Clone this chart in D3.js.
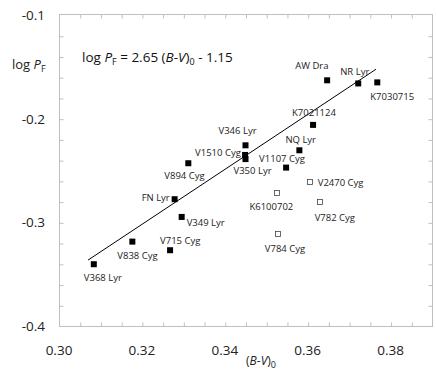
<!DOCTYPE html>
<html>
<head>
<meta charset="utf-8">
<script src="https://cdn.jsdelivr.net/npm/d3@7"></script>
<style>
  body { margin: 0; background: #fff; }
  svg { display: block; font-family: "Open Sans", sans-serif; }
</style>
</head>
<body>
<svg id="chart" width="436" height="375"></svg>
<script>
// stars on the fit (filled squares)
const filledNames = ['AW Dra', 'NR Lyr', 'K7030715', 'K7021124', 'V346 Lyr', 'V1510 Cyg', 'V350 Lyr',
    'NQ Lyr', 'V1107 Cyg', 'V894 Cyg', 'FN Lyr', 'V349 Lyr', 'V838 Cyg', 'V715 Cyg', 'V368 Lyr'];
const filledBV = [0.3647, 0.3722, 0.3768, 0.3613, 0.3450, 0.3449, 0.3450,
    0.3580, 0.3548, 0.3312, 0.3279, 0.3296, 0.3177, 0.3268, 0.3084];
const filledLogP = [-0.163, -0.166, -0.165, -0.206, -0.2257, -0.235, -0.239,
    -0.2305, -0.2472, -0.243, -0.2777, -0.2948, -0.3186, -0.3269, -0.3404];

// stars off the fit (open squares)
const openNames = ['V2470 Cyg', 'K6100702', 'V782 Cyg', 'V784 Cyg'];
const openBV = [0.3605, 0.3527, 0.3629, 0.3528];
const openLogP = [-0.2607, -0.2713, -0.2800, -0.3112];

// fitted relation log P = 2.65 (B-V)0 - 1.15
const fitSlope = 2.65;
const fitIntercept = -1.15;
const fitRange = [0.307, 0.3765];

const xMajorTicks = [0.30, 0.32, 0.34, 0.36, 0.38];
const xMinorTicks = d3.range(0.305, 0.389, 0.005);
const yMajorTicks = [-0.4, -0.3, -0.2, -0.1];
const yMinorTicks = d3.range(-0.38, -0.101, 0.02);

// label placement (dx, dy from the marker)
const labelOffsets = {
    'AW Dra': [-32, -11], 'NR Lyr': [-18, -8], 'K7030715': [-7, 18], 'K7021124': [-21, -9],
    'V346 Lyr': [-27, -11], 'V1510 Cyg': [-50, 1], 'V350 Lyr': [-12, 15], 'NQ Lyr': [-14, -7],
    'V1107 Cyg': [-27, -6], 'V894 Cyg': [-24, 16], 'FN Lyr': [-33, 2], 'V349 Lyr': [5, 9],
    'V715 Cyg': [-10, -6], 'V838 Cyg': [-15, 17], 'V368 Lyr': [-10, 17],
    'V2470 Cyg': [8, 4], 'K6100702': [-28, 17], 'V782 Cyg': [-5, 19], 'V784 Cyg': [-13, 18]
};

const svg = d3.select('#chart');
const frame = { left: 59, right: 432, top: 15, bottom: 326 };

const x = d3.scaleLinear().domain([0.30, 0.39]).range([frame.left, frame.right]);
const y = d3.scaleLinear().domain([-0.4, -0.1]).range([frame.bottom, frame.top]);

const gridColor = '#bfbfbf';

// minor ticks on all four sides, pointing inward
function tickAxis(axis, transform) {
    const g = svg.append('g')
        .attr('transform', transform)
        .call(axis.tickSizeOuter(0).tickFormat(''));
    g.select('.domain').remove();
    g.selectAll('line').attr('stroke', gridColor);
}
tickAxis(d3.axisBottom(x).tickValues(xMinorTicks).tickSizeInner(-4), `translate(0.5,${frame.bottom + 0.5})`);
tickAxis(d3.axisTop(x).tickValues(xMinorTicks).tickSizeInner(-4), `translate(0.5,${frame.top - 0.5})`);
tickAxis(d3.axisLeft(y).tickValues(yMinorTicks).tickSizeInner(-4), `translate(${frame.left + 0.5},0.5)`);
tickAxis(d3.axisRight(y).tickValues(yMinorTicks).tickSizeInner(-4), `translate(${frame.right + 0.5},0.5)`);

svg.append('rect')
    .attr('x', frame.left + 0.5)
    .attr('y', frame.top - 0.5)
    .attr('width', frame.right - frame.left)
    .attr('height', frame.bottom - frame.top + 1)
    .attr('fill', 'none')
    .attr('stroke', gridColor);

// tick labels
svg.append('g').selectAll('text')
    .data(xMajorTicks)
    .enter()
    .append('text')
    .attr('x', d => x(d))
    .attr('y', 355)
    .attr('text-anchor', 'middle')
    .attr('font-size', 13.5)
    .attr('fill', '#222')
    .text(d3.format('.2f'));

svg.append('g').selectAll('text')
    .data(yMajorTicks)
    .enter()
    .append('text')
    .attr('x', 45)
    .attr('y', d => y(d))
    .attr('dy', '0.36em')
    .attr('text-anchor', 'end')
    .attr('font-size', 13.5)
    .attr('fill', '#222')
    .text(d => d3.format('.1f')(d).replace('−', '-'));

// axis titles
const yTitle = svg.append('text').attr('x', 12).attr('y', 69).attr('font-size', 13).attr('fill', '#222');
yTitle.append('tspan').text('log ');
yTitle.append('tspan').attr('font-style', 'italic').text('P');
yTitle.append('tspan').attr('font-size', 9).attr('dy', 3).text('F');

const xTitle = svg.append('text').attr('x', 246).attr('y', 365).attr('font-size', 12).attr('fill', '#222');
xTitle.append('tspan').text('(');
xTitle.append('tspan').attr('font-style', 'italic').text('B');
xTitle.append('tspan').text('-');
xTitle.append('tspan').attr('font-style', 'italic').text('V');
xTitle.append('tspan').text(')');
xTitle.append('tspan').attr('font-size', 9).attr('dy', 3).text('0');

// equation
const eq = svg.append('text').attr('x', 82).attr('y', 62).attr('font-size', 13.5).attr('fill', '#111');
eq.append('tspan').text('log ');
eq.append('tspan').attr('font-style', 'italic').text('P');
eq.append('tspan').attr('font-size', 9).attr('dy', 3).text('F');
eq.append('tspan').attr('dy', -3).text(` = ${fitSlope} (`);
eq.append('tspan').attr('font-style', 'italic').text('B');
eq.append('tspan').text('-');
eq.append('tspan').attr('font-style', 'italic').text('V');
eq.append('tspan').text(')');
eq.append('tspan').attr('font-size', 9).attr('dy', 3).text('0');
eq.append('tspan').attr('dy', -3).text(` - ${Math.abs(fitIntercept).toFixed(2)}`);

// fit line
const line = d3.line()
    .x(d => x(d))
    .y(d => y(fitSlope * d + fitIntercept));
svg.append('path')
    .datum(fitRange)
    .attr('d', line)
    .attr('fill', 'none')
    .attr('stroke', '#000')
    .attr('stroke-width', 1);

const filled = filledNames.map((name, i) => ({ name, bv: filledBV[i], logP: filledLogP[i] }));
const open = openNames.map((name, i) => ({ name, bv: openBV[i], logP: openLogP[i] }));

svg.append('g').selectAll('rect')
    .data(filled)
    .enter()
    .append('rect')
    .attr('x', d => x(d.bv) - 3)
    .attr('y', d => y(d.logP) - 3)
    .attr('width', 6)
    .attr('height', 6)
    .attr('fill', '#000');

svg.append('g').selectAll('rect')
    .data(open)
    .enter()
    .append('rect')
    .attr('x', d => Math.round(x(d.bv)) - 2.5)
    .attr('y', d => Math.round(y(d.logP)) - 2.5)
    .attr('width', 5)
    .attr('height', 5)
    .attr('fill', '#fff')
    .attr('stroke', '#444')
    .attr('stroke-width', 0.8);

// star labels
svg.append('g').selectAll('text')
    .data(filled.concat(open))
    .enter()
    .append('text')
    .attr('x', d => x(d.bv) + labelOffsets[d.name][0])
    .attr('y', d => y(d.logP) + labelOffsets[d.name][1])
    .attr('font-size', 9.5)
    .attr('fill', '#222')
    .text(d => d.name);
</script>
</body>
</html>
